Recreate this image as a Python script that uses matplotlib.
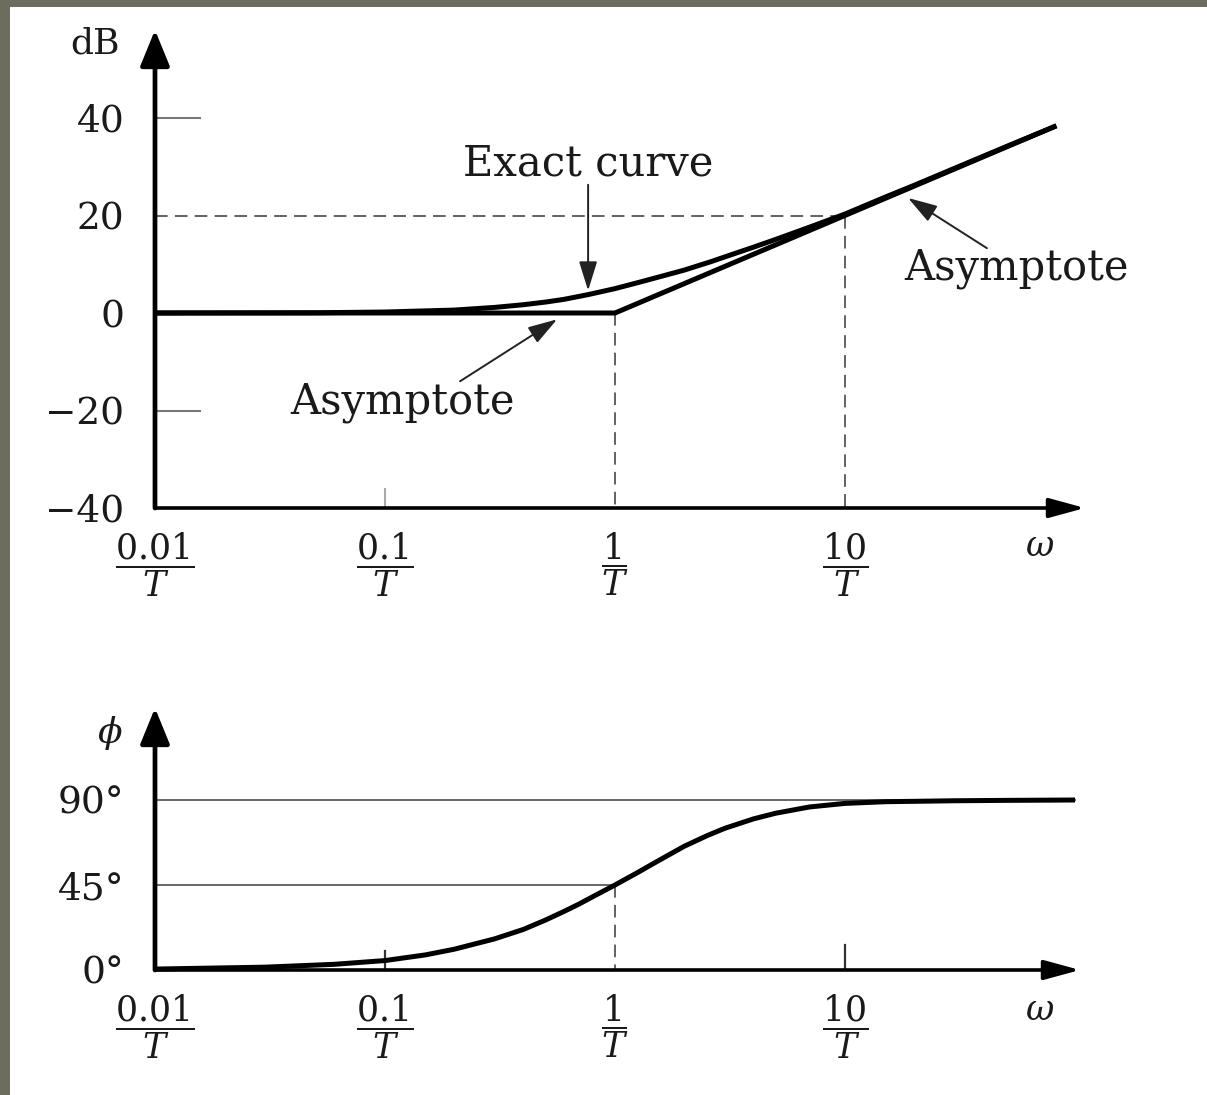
import matplotlib
matplotlib.use('Agg')
from matplotlib import pyplot as plt
from matplotlib.patches import Rectangle

plt.rcParams['font.family'] = ['DejaVu Serif']
plt.rcParams['mathtext.fontset'] = 'dejavuserif'

# x ticks (omega * T) and their labels
w_ticks = [0.01, 0.1, 1, 10]
w_labels = [r'$\dfrac{0.01}{T}$', r'$\dfrac{0.1}{T}$', r'$\dfrac{1}{T}$', r'$\dfrac{10}{T}$']

# magnitude axis
db_ticks = [40, 20, 0, -20, -40]
db_labels = ['40', '20', '0', '\u221220', '\u221240']

# phase axis
ph_ticks = [90, 45, 0]
ph_labels = ['90\u00b0', '45\u00b0', '0\u00b0']

# asymptote (dB)
w_asym = [0.01, 1.0, 83.0]
db_asym = [0.0, 0.0, 38.4]

# exact magnitude curve as drawn (dB)
w_mag = [0.01, 0.05, 0.1, 0.2, 0.3, 0.4, 0.5, 0.6, 0.76, 1.0, 1.25, 1.5,
         2.0, 2.6, 3.0, 4.0, 5.0, 7.0, 10.0, 15.0, 20.0, 30.0, 50.0, 83.0]
db_exact = [0.0, 0.05, 0.2, 0.6, 1.15, 1.7, 2.25, 2.8, 3.75, 5.0, 6.2, 7.2,
            8.8, 10.5, 11.5, 13.5, 15.1, 17.6, 20.3, 23.8, 26.2, 29.7, 34.1, 38.4]

# phase curve as drawn (deg)
w_ph = [0.01, 0.03, 0.06, 0.1, 0.15, 0.2, 0.3, 0.4, 0.5, 0.6, 0.7, 0.8, 1.0, 1.25,
        1.5, 2.0, 2.5, 3.0, 4.0, 5.0, 7.0, 10.0, 15.0, 20.0, 30.0, 50.0, 100.0]
ph_deg = [0.5, 1.5, 3.0, 5.0, 8.0, 11.0, 16.5, 21.5, 26.5, 31.0, 35.0, 38.8, 45.0, 51.5,
          57.0, 65.5, 71.0, 75.0, 80.0, 83.0, 86.3, 88.2, 89.1, 89.3, 89.6, 89.8, 90.0]

W, H = 1207, 1095
TXT = '#1a1a1a'
GRAY = '#555555'

fig = plt.figure(figsize=(W / 100, H / 100), dpi=100, facecolor='#6d6d5e')
fig.patches.append(Rectangle((10 / W, 0), 1, (H - 7) / H, transform=fig.transFigure,
                             facecolor='white', edgecolor='none', zorder=-5))


def make_axes(left, right, bottom, top):
    ax = fig.add_axes([left / W, (H - bottom) / H, (right - left) / W, (bottom - top) / H])
    ax.set_facecolor('none')
    ax.set_xscale('log')
    for s in ax.spines.values():
        s.set_visible(False)
    ax.minorticks_off()
    return ax


def axis_arrows(ax):
    ax.annotate('', xy=(1, 0), xytext=(0, 0), xycoords='axes fraction',
                arrowprops=dict(arrowstyle='-|>,head_length=1.1,head_width=0.3',
                                lw=2.6, color='k', shrinkA=0, shrinkB=0, mutation_scale=20))
    ax.annotate('', xy=(0, 1), xytext=(0, 0), xycoords='axes fraction',
                arrowprops=dict(arrowstyle='-|>,head_length=1.1,head_width=0.45',
                                lw=3.4, color='k', shrinkA=0, shrinkB=0, mutation_scale=20))


def pointer(ax, text, xy, xytext, tx, ty):
    ax.annotate('', xy=xy, xytext=xytext,
                arrowprops=dict(arrowstyle='-|>,head_length=0.9,head_width=0.28',
                                lw=1.4, color='#222222', shrinkA=0, shrinkB=0, mutation_scale=20))
    ax.text(tx, ty, text, ha='center', va='baseline', fontsize=30, color=TXT)


# ---------------- magnitude ----------------
ax1 = make_axes(155, 1085, 508, 30)
ax1.set_xlim(0.01, 0.01 * 10 ** (930 / 230))
ax1.set_ylim(-40, -40 + 478 / 4.875)
ax1.set_xticks(w_ticks)
ax1.set_xticklabels(w_labels, fontsize=25, color=TXT)
ax1.set_yticks(db_ticks)
ax1.set_yticklabels(db_labels, fontsize=27, color=TXT)
ax1.tick_params(axis='x', length=0, pad=16)
ax1.tick_params(axis='y', length=0, pad=22)

# short tick marks
for v in [40, 0, -20]:
    ax1.plot([0.01, 0.0157], [v, v], color='#777777', lw=1.5, zorder=2)
ax1.plot([0.1, 0.1], [-40, -36], color='#aaaaaa', lw=1.5)

dash = dict(color=GRAY, lw=1.3, ls=(0, (7, 4)), zorder=2)
ax1.plot([0.01, 10], [20, 20], **dash)
ax1.plot([10, 10], [20, -40], **dash)
ax1.plot([1, 1], [0, -40], **dash)

ax1.plot(w_asym, db_asym, color='k', lw=3.6, solid_capstyle='butt', zorder=4, clip_on=False)
ax1.plot(w_mag, db_exact, color='k', lw=3.6, solid_capstyle='butt', zorder=4, clip_on=False)
axis_arrows(ax1)

pointer(ax1, 'Exact curve', (0.764, 4.6), (0.764, 26.3), 0.764, 28.3)
pointer(ax1, 'Asymptote', (0.56, -1.3), (0.212, -14.0), 0.1186, -20.7)
pointer(ax1, 'Asymptote', (18.8, 23.6), (41.4, 13.3), 55.4, 6.8)

ax1.text(0.0055, 55.2, 'dB', ha='center', va='center', fontsize=26, color=TXT)
ax1.text(0.01 * 10 ** (885 / 230), -47.7, r'$\omega$', ha='center', va='center', fontsize=25, color=TXT)

# ---------------- phase ----------------
ax2 = make_axes(155, 1080, 970, 708)
ax2.set_xlim(0.01, 0.01 * 10 ** (925 / 230))
ax2.set_ylim(0, 262 / (85 / 45))
ax2.set_xticks(w_ticks)
ax2.set_xticklabels(w_labels, fontsize=25, color=TXT)
ax2.set_yticks(ph_ticks)
ax2.set_yticklabels(ph_labels, fontsize=27, color=TXT)
ax2.tick_params(axis='x', length=0, pad=16)
ax2.tick_params(axis='y', length=0, pad=22)

ax2.plot([0.01, 100], [90, 90], color='#666666', lw=1.4, zorder=2)
ax2.plot([0.01, 1], [45, 45], color='#666666', lw=1.4, zorder=2)
ax2.plot([1, 1], [45, 0], **dash)
ax2.plot([0.1, 0.1], [0, 10], color='#333333', lw=1.6)
ax2.plot([10, 10], [0, 13], color='#333333', lw=1.6)

ax2.plot(w_ph, ph_deg, color='k', lw=3.6, solid_capstyle='butt', zorder=4, clip_on=False)
axis_arrows(ax2)

ax2.text(0.0064, 125.5, r'$\phi$', ha='center', va='center', fontsize=26, color=TXT)
ax2.text(0.01 * 10 ** (885 / 230), -21.2, r'$\omega$', ha='center', va='center', fontsize=25, color=TXT)

fig.savefig('out.png', dpi=100, facecolor=fig.get_facecolor())
